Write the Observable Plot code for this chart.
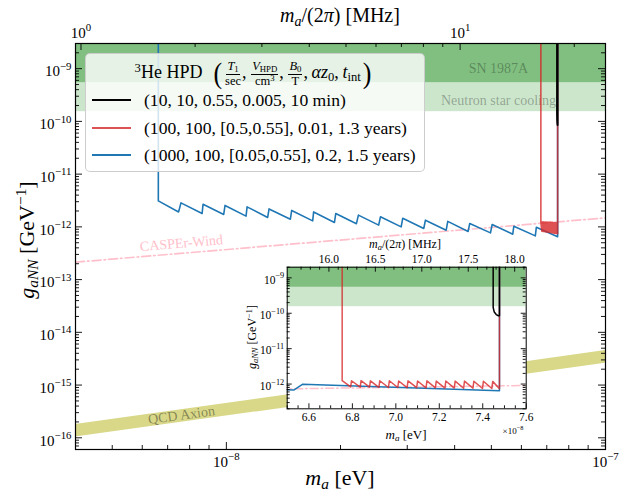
<!DOCTYPE html>
<html><head><meta charset="utf-8">
<script src="https://cdn.jsdelivr.net/npm/d3@7"></script>
<script src="https://cdn.jsdelivr.net/npm/@observablehq/plot@0.6"></script>
<style>
body{margin:0;background:#fff;}
#fig{position:relative;width:626px;height:491px;font-family:'Liberation Serif','Times New Roman',serif;color:#000;overflow:hidden;}
#fig svg{position:absolute;}
.lbl{position:absolute;white-space:nowrap;line-height:1;transform:translate(-50%,-50%);}
.lbl sub{font-size:0.7em;vertical-align:-0.25em;line-height:0;}
.lbl sup{font-size:0.7em;vertical-align:0.5em;line-height:0;}
#legend{position:absolute;left:85px;top:53px;width:340px;height:119px;box-sizing:border-box;border:1px solid rgba(200,200,200,0.9);border-radius:5px;background:rgba(255,255,255,0.8);}
#legend .title{position:absolute;left:0;top:3px;width:336px;height:34px;display:flex;align-items:center;justify-content:center;font-size:18px;white-space:nowrap;}
#legend .title sub{font-size:0.7em;vertical-align:-0.25em;line-height:0;}
#legend .title sup{font-size:0.7em;vertical-align:0.5em;line-height:0;}
.frac{display:inline-flex;flex-direction:column;align-items:center;vertical-align:middle;font-size:12.5px;line-height:1.05;margin:0 1px;}
.frac>span:first-child{border-bottom:0.8px solid #000;padding:0 1px 1px 1px;}
.big{font-size:26px;display:inline-block;vertical-align:middle;transform:scaleY(1.15);margin:0 2px;line-height:1;}
.row{position:absolute;left:58px;font-size:17.6px;line-height:20px;white-space:nowrap;}
.handle{position:absolute;left:6px;width:39px;height:2px;}
</style></head><body><div id="fig"></div>
<script>
// ---------- data ----------
const xDomain = [4e-9, 1e-7];          // m_a [eV]
const yDomain = [6e-17, 3e-9];         // g_aNN [GeV^-1]
const insetXDomain = [6.5, 7.6];       // m_a [1e-8 eV]
const insetYDomain = [2e-13, 2e-9];

// blue: (1000, 100, [0.05,0.55], 0.2, 1.5 years)
const blueM = [6.615e-9, 6.615e-9, 7.48e-9, 7.59e-9, 8.63e-9, 8.68e-9, 9.84e-9, 9.92e-9, 1.127e-8, 1.134e-8, 1.285e-8, 1.296e-8, 1.475e-8, 1.487e-8, 1.689e-8, 1.699e-8, 1.928e-8, 1.943e-8, 2.203e-8, 2.230e-8, 2.522e-8, 2.549e-8, 2.891e-8, 2.919e-8, 3.316e-8, 3.350e-8, 3.800e-8, 3.837e-8, 4.342e-8, 4.385e-8, 4.973e-8, 5.024e-8, 5.693e-8, 5.731e-8, 6.53e-8, 6.57e-8, 7.477e-8, 7.477e-8];
const blueG = [1e-7, 3.11e-12, 1.92e-12, 2.85e-12, 1.79e-12, 2.69e-12, 1.72e-12, 2.55e-12, 1.60e-12, 2.39e-12, 1.51e-12, 2.19e-12, 1.40e-12, 2.05e-12, 1.30e-12, 1.92e-12, 1.21e-12, 1.79e-12, 1.15e-12, 1.67e-12, 1.08e-12, 1.55e-12, 1.00e-12, 1.46e-12, 9.31e-13, 1.34e-12, 8.65e-13, 1.27e-12, 8.18e-13, 1.16e-12, 7.69e-13, 1.11e-12, 7.26e-13, 1.03e-12, 6.75e-13, 9.8e-13, 6.5e-13, 1e-7];

// red: (100, 100, [0.5,0.55], 0.01, 1.3 years)
const redM = [6.753e-8, 6.753e-8, 6.792e-8, 6.796e-8, 6.836e-8, 6.840e-8, 6.879e-8, 6.883e-8, 6.922e-8, 6.926e-8, 6.966e-8, 6.970e-8, 7.009e-8, 7.013e-8, 7.052e-8, 7.056e-8, 7.096e-8, 7.100e-8, 7.139e-8, 7.143e-8, 7.182e-8, 7.186e-8, 7.226e-8, 7.230e-8, 7.269e-8, 7.273e-8, 7.312e-8, 7.316e-8, 7.355e-8, 7.359e-8, 7.399e-8, 7.403e-8, 7.442e-8, 7.446e-8, 7.477e-8, 7.477e-8];
const redG = [1e-7, 1.25e-12, 8.3e-13, 1.24e-12, 8.2e-13, 1.25e-12, 8.2e-13, 1.23e-12, 8.1e-13, 1.24e-12, 8.0e-13, 1.24e-12, 8.0e-13, 1.22e-12, 7.9e-13, 1.23e-12, 7.9e-13, 1.22e-12, 7.8e-13, 1.23e-12, 7.8e-13, 1.21e-12, 7.7e-13, 1.22e-12, 7.7e-13, 1.21e-12, 7.6e-13, 1.21e-12, 7.6e-13, 1.20e-12, 7.5e-13, 1.20e-12, 7.5e-13, 1.19e-12, 7.4e-13, 1e-7];

// black: (10, 10, 0.55, 0.005, 10 min)
const blackM = [7.448e-8, 7.448e-8, 7.453e-8, 7.462e-8, 7.472e-8, 7.477e-8, 7.477e-8];
const blackG = [1e-7, 1.45e-10, 1.08e-10, 9.2e-11, 8.5e-11, 8.5e-11, 1e-7];

// QCD axion band
const qcdM = [4e-9, 1e-7];
const qcdLo = [1.03e-16, 2.6e-15];
const qcdHi = [1.79e-16, 4.5e-15];

// CASPEr-Wind projection
const casperM = [4e-9, 1e-7];
const casperG = [2.14e-13, 1.48e-12];

// astrophysical bounds
const boundNames = ["Neutron star cooling", "SN 1987A"];
const boundLo = [1.53e-10, 5.4e-10];
const boundHi = [5.4e-10, 1e-7];

// legend
const legendTitleHTML = '<span><sup>3</sup>He HPD&nbsp;&nbsp;<span class="big">(</span><span class="frac"><span><i>T</i><sub>1</sub></span><span>sec</span></span>,&thinsp;<span class="frac"><span><i>V</i><sub>HPD</sub></span><span>cm<sup>3</sup></span></span>,&thinsp;<span class="frac"><span><i>B</i><sub>0</sub></span><span>T</span></span>,&thinsp;<i>αz</i><sub>0</sub>,&thinsp;<i>t</i><sub>int</sub><span class="big">)</span></span>';
const legendLabels = ["(10, 10, 0.55, 0.005, 10 min)", "(100, 100, [0.5,0.55], 0.01, 1.3 years)", "(1000, 100, [0.05,0.55], 0.2, 1.5 years)"];

// ticks
const xMajor = [1e-8, 1e-7];
const xMinor = [4e-9, 5e-9, 6e-9, 7e-9, 8e-9, 9e-9, 2e-8, 3e-8, 4e-8, 5e-8, 6e-8, 7e-8, 8e-8, 9e-8];
const topMajorMHz = [1, 10];
const topMinorMHz = [2, 3, 4, 5, 6, 7, 8, 9, 20];
const yMajor = [1e-16, 1e-15, 1e-14, 1e-13, 1e-12, 1e-11, 1e-10, 1e-9];
const insetXMajor = [6.6, 6.8, 7.0, 7.2, 7.4, 7.6];
const insetTopMHz = [16, 16.5, 17, 17.5, 18];
const insetYMajor = [1e-12, 1e-11, 1e-10, 1e-9];

// ---------- colours / constants ----------
const EV_PER_MHZ = 4.1357e-9;
const INSET_MHZ_SLOPE = 0.4275, INSET_MHZ_OFFSET = -0.148; // inset top axis as drawn
const C_BLUE = "#1f77b4", C_RED = "#d62728", C_BLACK = "#000";
const bandColors = ["#cce6cc", "#80bf80"];

const rows = (ms, gs) => ms.map((m, i) => ({m, g: gs[i]}));
const blue = rows(blueM, blueG), red = rows(redM, redG), black = rows(blackM, blackG);
const casper = rows(casperM, casperG);
const qcd = qcdM.map((m, i) => ({m, lo: qcdLo[i], hi: qcdHi[i]}));
const bounds = boundNames.map((name, i) => ({name, lo: boundLo[i], hi: boundHi[i], color: bandColors[i]}));

const pow10 = v => "10^" + Math.round(Math.log10(v));
function minorLog(domain) {
  const out = [];
  for (let e = Math.floor(Math.log10(domain[0])); e <= Math.ceil(Math.log10(domain[1])); e++)
    for (let k = 2; k <= 9; k++) { const v = k * Math.pow(10, e); if (v >= domain[0] * 0.999 && v <= domain[1] * 1.001) out.push(v); }
  return out;
}
function ticks(kind, values, len, plotW, plotH, accessor) {
  const o = {stroke: "#000", strokeWidth: 0.9};
  if (kind === "bottom") return Plot.ruleX(values, {...o, x: accessor, insetTop: plotH - len});
  if (kind === "top") return Plot.ruleX(values, {...o, x: accessor, insetBottom: plotH - len});
  if (kind === "left") return Plot.ruleY(values, {...o, y: accessor, insetRight: plotW - len});
  return Plot.ruleY(values, {...o, y: accessor, insetLeft: plotW - len});
}
// turn "10^-9" tick texts into 10 with a raised exponent
function superscripts(svg) {
  svg.querySelectorAll("text").forEach(t => {
    const m = t.textContent.match(/^10\^(-?\d+)$/);
    if (!m) return;
    t.textContent = "10";
    const ts = document.createElementNS("http://www.w3.org/2000/svg", "tspan");
    ts.setAttribute("dy", "-0.62em");
    ts.setAttribute("font-size", "0.72em");
    ts.textContent = m[1].replace("-", "−");
    t.appendChild(ts);
  });
}

const fig = document.getElementById("fig");
const FONT = "'Liberation Serif','Times New Roman',serif";

// ---------- main plot ----------
const W = 626, H = 491, mL = 75, mR = 21, mT = 43, mB = 42;
const pw = W - mL - mR, ph = H - mT - mB;
const id = d => d;
const topMajor = topMajorMHz.map(f => f * EV_PER_MHZ);
const topMinor = topMinorMHz.map(f => f * EV_PER_MHZ);
const yMinor = minorLog(yDomain);

const main = Plot.plot({
  width: W, height: H, marginLeft: mL, marginRight: mR, marginTop: mT, marginBottom: mB,
  style: {fontFamily: FONT, fontSize: "15px", background: "transparent", overflow: "visible"},
  x: {type: "log", domain: xDomain, axis: null},
  y: {type: "log", domain: yDomain, axis: null},
  marks: [
    Plot.rect(bounds, {y1: "lo", y2: "hi", fill: "color", clip: true}),
    Plot.areaY(qcd, {x: "m", y1: "lo", y2: "hi", fill: "#d8d888", clip: true}),
    Plot.line(casper, {x: "m", y: "g", stroke: "#ffc0cb", strokeWidth: 1.7, strokeDasharray: "9,3,1.6,3", clip: true}),
    Plot.text(["SN 1987A"], {x: [5.22e-8], y: [1.0e-9], text: id, fill: "#000", fillOpacity: 0.3, fontSize: 14}),
    Plot.text(["Neutron star cooling"], {x: [5.22e-8], y: [2.53e-10], text: id, fill: "#000", fillOpacity: 0.3, fontSize: 14}),
    Plot.text(["CASPEr-Wind"], {x: [7.61e-9], y: [4.9e-13], text: id, fill: "#ffc0cb", fontSize: 14, rotate: -4.8}),
    Plot.text(["QCD Axion"], {x: [7.61e-9], y: [2.69e-16], text: id, fill: "#000", fillOpacity: 0.4, fontSize: 14, rotate: -7.7}),
    Plot.line(blue, {x: "m", y: "g", stroke: C_BLUE, strokeWidth: 1.6, clip: true}),
    Plot.line(red, {x: "m", y: "g", stroke: C_RED, strokeOpacity: 0.8, strokeWidth: 1.6, clip: true}),
    Plot.line(black, {x: "m", y: "g", stroke: C_BLACK, strokeWidth: 1.8, clip: true}),
    ticks("bottom", xMajor, 7, pw, ph, id), ticks("bottom", xMinor, 4, pw, ph, id),
    ticks("top", topMajor, 7, pw, ph, id), ticks("top", topMinor, 4, pw, ph, id),
    ticks("left", yMajor, 7, pw, ph, id), ticks("left", yMinor, 4, pw, ph, id),
    ticks("right", yMajor, 7, pw, ph, id), ticks("right", yMinor, 4, pw, ph, id),
    Plot.axisX(xMajor, {anchor: "bottom", tickSize: 0, tickPadding: 7, tickFormat: pow10, fontSize: 15, label: null}),
    Plot.axisX(topMajor, {anchor: "top", tickSize: 0, tickPadding: 6, tickFormat: d => pow10(d / EV_PER_MHZ), fontSize: 15, label: null}),
    Plot.axisY(yMajor, {anchor: "left", tickSize: 0, tickPadding: 4, tickFormat: pow10, fontSize: 15, label: null, dy: 3}),
    Plot.frame({stroke: "#000", strokeWidth: 1.2})
  ]
});
superscripts(main);
main.style.left = "0px"; main.style.top = "0px";
fig.appendChild(main);

// ---------- legend ----------
const legend = document.createElement("div");
legend.id = "legend";
let lh = `<div class="title">${legendTitleHTML}</div>`;
const legendColors = [C_BLACK, "rgba(214,39,40,0.8)", C_BLUE];
const rowY = [46, 73.5, 101];
legendLabels.forEach((t, i) => {
  lh += `<div class="handle" style="top:${rowY[i] - 1}px;background:${legendColors[i]}"></div>`;
  lh += `<div class="row" style="top:${rowY[i] - 10}px">${t}</div>`;
});
legend.innerHTML = lh;
fig.appendChild(legend);

// ---------- inset ----------
const IL = 230, IT = 230, IW = 310, IH = 215;
const imL = 56.7, imT = 36.7, imR = 14.3, imB = 36.7;
const ipw = IW - imL - imR, iph = IH - imT - imB;
const ix = d => d.m * 1e8;
const insetTopPos = insetTopMHz.map(f => f * INSET_MHZ_SLOPE + INSET_MHZ_OFFSET);
const insetTopLabel = new Map(insetTopPos.map((p, i) => [p, insetTopMHz[i].toFixed(1)]));
const insetTopMinor = d3.range(157, 185).map(k => k / 10).filter(f => !insetTopMHz.includes(f)).map(f => f * INSET_MHZ_SLOPE + INSET_MHZ_OFFSET).filter(v => v > 6.5 && v < 7.6);
const insetXMinor = d3.range(130, 153).map(k => k / 20).filter(v => !insetXMajor.some(M => Math.abs(M - v) < 1e-9));
const insetYMinor = minorLog(insetYDomain);

const inset = Plot.plot({
  width: IW, height: IH, marginLeft: imL, marginRight: imR, marginTop: imT, marginBottom: imB,
  style: {fontFamily: FONT, fontSize: "11px", background: "transparent", overflow: "visible"},
  x: {type: "linear", domain: insetXDomain, axis: null},
  y: {type: "log", domain: insetYDomain, axis: null},
  marks: [
    Plot.frame({fill: "white"}),
    Plot.rect(bounds, {y1: "lo", y2: "hi", fill: "color", clip: true}),
    Plot.line(casper, {x: ix, y: "g", stroke: "#ffc0cb", strokeWidth: 1.5, strokeDasharray: "8,3,1.5,3", clip: true}),
    Plot.line(blue, {x: ix, y: "g", stroke: C_BLUE, strokeWidth: 1.5, clip: true}),
    Plot.line(red, {x: ix, y: "g", stroke: C_RED, strokeOpacity: 0.8, strokeWidth: 1.5, clip: true}),
    Plot.line(black, {x: ix, y: "g", stroke: C_BLACK, strokeWidth: 1.5, clip: true}),
    ticks("bottom", insetXMajor, 5, ipw, iph, id), ticks("bottom", insetXMinor, 3, ipw, iph, id),
    ticks("top", insetTopPos, 5, ipw, iph, id), ticks("top", insetTopMinor, 3, ipw, iph, id),
    ticks("left", insetYMajor, 5, ipw, iph, id), ticks("left", insetYMinor, 3, ipw, iph, id),
    ticks("right", insetYMajor, 5, ipw, iph, id), ticks("right", insetYMinor, 3, ipw, iph, id),
    Plot.axisX(insetXMajor, {anchor: "bottom", tickSize: 0, tickPadding: 4, tickFormat: d => d.toFixed(1), fontSize: 11.5, label: null}),
    Plot.axisX(insetTopPos, {anchor: "top", tickSize: 0, tickPadding: 4, tickFormat: d => insetTopLabel.get(d), fontSize: 11.5, label: null}),
    Plot.axisY(insetYMajor, {anchor: "left", tickSize: 0, tickPadding: 3, tickFormat: pow10, fontSize: 11.5, label: null, dy: 2}),
    Plot.frame({stroke: "#000", strokeWidth: 1})
  ]
});
superscripts(inset);
inset.style.left = IL + "px"; inset.style.top = IT + "px";
fig.appendChild(inset);

// ---------- axis titles ----------
function label(html, x, y, size, rot) {
  const d = document.createElement("div");
  d.className = "lbl";
  d.style.left = x + "px"; d.style.top = y + "px"; d.style.fontSize = size + "px";
  if (rot) d.style.transform = "translate(-50%,-50%) rotate(-90deg)";
  d.innerHTML = html;
  fig.appendChild(d);
}
label('<i>m</i><sub><i>a</i></sub> [eV]', 340, 478, 22);
label('<i>m</i><sub><i>a</i></sub>/(2<i>π</i>) [MHz]', 340, 15, 20);
label('<i>g</i><sub><i>aNN</i></sub> [GeV<sup>−1</sup>]', 27, 240, 22, true);
label('<i>m</i><sub><i>a</i></sub> [eV]', 406, 434, 13);
label('<i>m</i><sub><i>a</i></sub>/(2<i>π</i>) [MHz]', 405, 244, 12);
label('<i>g</i><sub><i>aNN</i></sub> [GeV<sup>−1</sup>]', 252, 337, 12, true);
label('×10<sup>−8</sup>', 513, 431, 9);
</script></body></html>
